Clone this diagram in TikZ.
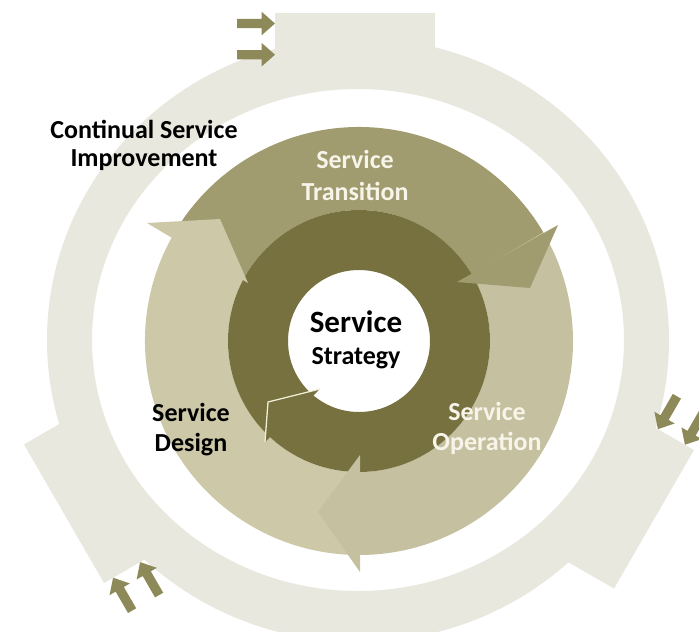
\documentclass[tikz,border=0pt]{standalone}
\usepackage{fontspec}
\setmainfont{Carlito}
\definecolor{ringc}{RGB}{233,232,223}
\definecolor{transc}{RGB}{160,156,111}
\definecolor{operc}{RGB}{196,192,160}
\definecolor{desic}{RGB}{204,200,168}
\definecolor{stratc}{RGB}{118,113,63}
\definecolor{arrowc}{RGB}{141,137,89}
\definecolor{edgec}{RGB}{240,238,215}
\definecolor{lighttext}{RGB}{247,245,234}
\begin{document}
\begin{tikzpicture}[x=1pt,y=1pt,
  lbl/.style={align=center, inner sep=0pt},
  % a tab of the outer ring, with two small block arrows pointing into it
  cstab/.pic={\fill[ringc] (0,0) rectangle (160,-66);
      \fill[arrowc] (-38,-5.8) -- (-13.3,-5.8) -- (-13.3,1.2) -- (0,-10.5)
          -- (-13.3,-22.2) -- (-13.3,-15.2) -- (-38,-15.2) -- cycle;
      \fill[arrowc] (-38,-37) -- (-13.3,-37) -- (-13.3,-30) -- (0,-41.7)
          -- (-13.3,-53.4) -- (-13.3,-46.4) -- (-38,-46.4) -- cycle;}]
\useasboundingbox (0,0) rectangle (699,-632);
\fill[white] (0,0) rectangle (699,-632);

% outer ring (Continual Service Improvement) with its three tabs
\fill[ringc, even odd rule] (358,-340) ellipse[x radius=311, y radius=302]
                            (358,-340) ellipse[x radius=266, y radius=251];
\pic at (275,-13) {cstab};
\pic[rotate=-120] at (694,-450) {cstab};
\pic[rotate=120] at (104,-583) {cstab};

% middle ring: three curved arrow bodies
\begin{scope}[shift={(359,-341)}]
  \fill[transc] (151:131) arc[start angle=151, end angle=30.5, radius=131]
      -- (30.5:214) arc[start angle=30.5, end angle=151, radius=214] -- cycle;
  \fill[operc] (30.5:131) arc[start angle=30.5, end angle=-90, radius=131]
      -- (-90:214) arc[start angle=-90, end angle=30.5, radius=214] -- cycle;
  \fill[desic] (-90:131) arc[start angle=-90, end angle=-209, radius=131]
      -- (-209:214) arc[start angle=-209, end angle=-90, radius=214] -- cycle;
  % inner ring (Service Strategy)
  \fill[stratc, even odd rule] (0,0) circle[radius=131] (0,0) circle[radius=71];
\end{scope}

% head of the inner ring, lying on its own tail
\fill[stratc] (320,-389) -- (268,-402) -- (265,-442) -- cycle;
\draw[edgec, line width=1.3pt, line join=miter] (320,-389) -- (268,-402) -- (265,-442);

% heads of the middle arrows
\fill[transc] (457,-282) -- (558,-225) -- (530,-288) -- cycle;
\fill[operc] (360,-455) -- (360,-572) -- (318,-512) -- cycle;
\fill[desic] (248,-283) -- (147,-223) -- (220,-219) -- cycle;

% labels
\node[lbl, font={\bfseries\fontsize{26}{28}\selectfont}] (csi) at (144,-145)
  {Continual Service\\Improvement};
\node[lbl, text=lighttext, font={\bfseries\fontsize{26}{32}\selectfont}] (trans) at (355,-175)
  {Service\\Transition};
\node[lbl, font={\bfseries\fontsize{26}{32}\selectfont}] (strat) at (356,-340)
  {{\fontsize{31}{32}\selectfont Service}\\Strategy};
\node[lbl, font={\bfseries\fontsize{26}{30}\selectfont}] (design) at (191,-430)
  {Service\\Design};
\node[lbl, text=lighttext, font={\bfseries\fontsize{26}{30}\selectfont}] (oper) at (487,-428)
  {Service\\Operation};
\end{tikzpicture}
\end{document}
